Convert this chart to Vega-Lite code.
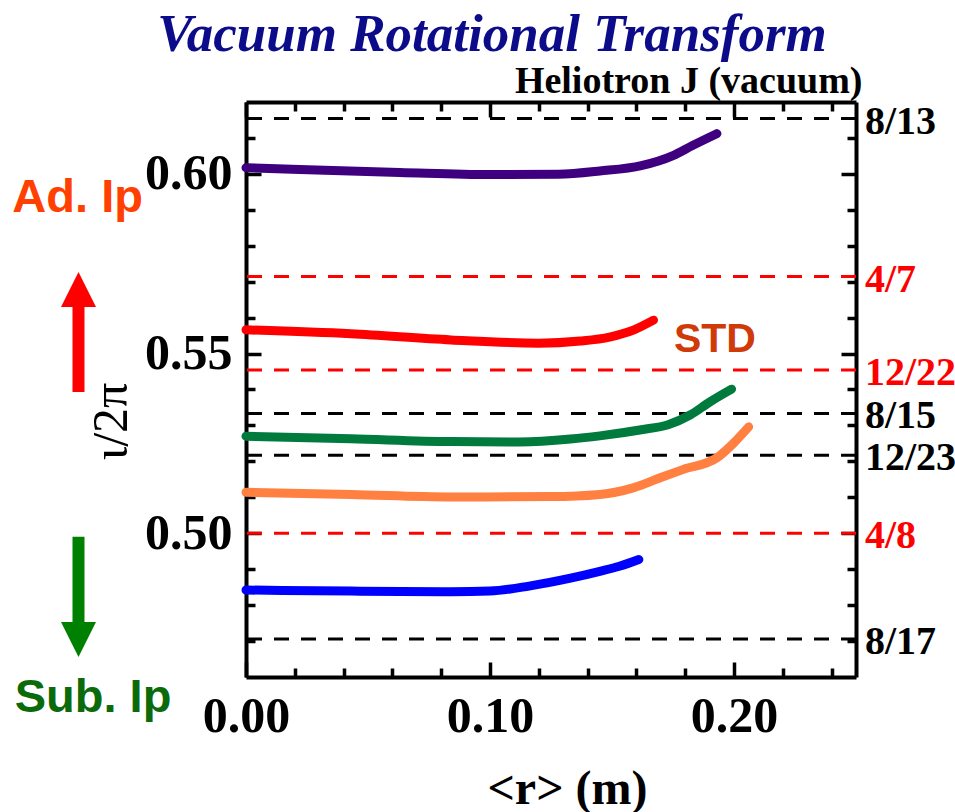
{
  "$schema": "https://vega.github.io/schema/vega-lite/v6.json",
  "width": 610,
  "height": 575,
  "autosize": {"type": "none"},
  "padding": {"left": 246, "top": 102, "right": 99, "bottom": 135},
  "background": "white",
  "title": {
    "text": "Vacuum Rotational Transform",
    "font": "Liberation Serif",
    "fontSize": 53,
    "fontStyle": "italic",
    "fontWeight": "bold",
    "color": "#0c0c8a",
    "anchor": "middle",
    "dx": -59,
    "offset": 0
  },
  "config": {
    "view": {"stroke": null},
    "axis": {
      "grid": false,
      "domainColor": "black",
      "domainWidth": 4,
      "tickColor": "black",
      "tickWidth": 3.5,
      "labelFont": "Liberation Serif",
      "labelFontWeight": "bold",
      "labelColor": "black",
      "titleColor": "black",
      "labelOverlap": false,
      "labelFlush": false
    }
  },
  "datasets": {
    "profiles": [
      {"config": "Ad. Ip", "r": 0.000, "iota": 0.6017},
      {"config": "Ad. Ip", "r": 0.022, "iota": 0.6012},
      {"config": "Ad. Ip", "r": 0.063, "iota": 0.6004},
      {"config": "Ad. Ip", "r": 0.100, "iota": 0.5998},
      {"config": "Ad. Ip", "r": 0.128, "iota": 0.5999},
      {"config": "Ad. Ip", "r": 0.145, "iota": 0.6008},
      {"config": "Ad. Ip", "r": 0.162, "iota": 0.6023},
      {"config": "Ad. Ip", "r": 0.175, "iota": 0.6051},
      {"config": "Ad. Ip", "r": 0.183, "iota": 0.6079},
      {"config": "Ad. Ip", "r": 0.193, "iota": 0.6112},
      {"config": "STD", "r": 0.000, "iota": 0.5566},
      {"config": "STD", "r": 0.043, "iota": 0.5555},
      {"config": "STD", "r": 0.084, "iota": 0.5538},
      {"config": "STD", "r": 0.120, "iota": 0.5529},
      {"config": "STD", "r": 0.137, "iota": 0.5535},
      {"config": "STD", "r": 0.149, "iota": 0.5546},
      {"config": "STD", "r": 0.159, "iota": 0.5566},
      {"config": "STD", "r": 0.167, "iota": 0.5593},
      {"config": "Sub. Ip 1", "r": 0.000, "iota": 0.5270},
      {"config": "Sub. Ip 1", "r": 0.043, "iota": 0.5263},
      {"config": "Sub. Ip 1", "r": 0.084, "iota": 0.5255},
      {"config": "Sub. Ip 1", "r": 0.112, "iota": 0.5254},
      {"config": "Sub. Ip 1", "r": 0.133, "iota": 0.5262},
      {"config": "Sub. Ip 1", "r": 0.145, "iota": 0.5271},
      {"config": "Sub. Ip 1", "r": 0.162, "iota": 0.5288},
      {"config": "Sub. Ip 1", "r": 0.173, "iota": 0.5302},
      {"config": "Sub. Ip 1", "r": 0.182, "iota": 0.5329},
      {"config": "Sub. Ip 1", "r": 0.190, "iota": 0.5365},
      {"config": "Sub. Ip 1", "r": 0.199, "iota": 0.5401},
      {"config": "Sub. Ip 2", "r": 0.000, "iota": 0.5114},
      {"config": "Sub. Ip 2", "r": 0.043, "iota": 0.5108},
      {"config": "Sub. Ip 2", "r": 0.084, "iota": 0.5101},
      {"config": "Sub. Ip 2", "r": 0.125, "iota": 0.5102},
      {"config": "Sub. Ip 2", "r": 0.145, "iota": 0.5108},
      {"config": "Sub. Ip 2", "r": 0.159, "iota": 0.5127},
      {"config": "Sub. Ip 2", "r": 0.170, "iota": 0.5155},
      {"config": "Sub. Ip 2", "r": 0.179, "iota": 0.5177},
      {"config": "Sub. Ip 2", "r": 0.193, "iota": 0.5210},
      {"config": "Sub. Ip 2", "r": 0.200, "iota": 0.5252},
      {"config": "Sub. Ip 2", "r": 0.206, "iota": 0.5296},
      {"config": "Sub. Ip 3", "r": 0.000, "iota": 0.4842},
      {"config": "Sub. Ip 3", "r": 0.043, "iota": 0.4839},
      {"config": "Sub. Ip 3", "r": 0.084, "iota": 0.4837},
      {"config": "Sub. Ip 3", "r": 0.100, "iota": 0.4839},
      {"config": "Sub. Ip 3", "r": 0.116, "iota": 0.4853},
      {"config": "Sub. Ip 3", "r": 0.133, "iota": 0.4875},
      {"config": "Sub. Ip 3", "r": 0.145, "iota": 0.4894},
      {"config": "Sub. Ip 3", "r": 0.153, "iota": 0.4908},
      {"config": "Sub. Ip 3", "r": 0.161, "iota": 0.4927}
    ],
    "resonances": [
      {"label": "8/13", "value": 0.6153846, "kind": "higher order"},
      {"label": "4/7", "value": 0.5714286, "kind": "low order"},
      {"label": "12/22", "value": 0.5454545, "kind": "low order"},
      {"label": "8/15", "value": 0.5333333, "kind": "higher order"},
      {"label": "12/23", "value": 0.5217391, "kind": "higher order"},
      {"label": "4/8", "value": 0.5, "kind": "low order"},
      {"label": "8/17", "value": 0.4705882, "kind": "higher order"}
    ]
  },
  "resolve": {
    "axis": {"x": "independent", "y": "independent"},
    "scale": {"color": "independent"}
  },
  "layer": [
    {
      "data": {"name": "resonances"},
      "mark": {"type": "rule", "strokeWidth": 3, "strokeDash": [15, 12]},
      "encoding": {
        "y": {"field": "value", "type": "quantitative", "axis": null,
              "scale": {"domain": [0.46, 0.62], "nice": false, "zero": false}},
        "color": {"field": "kind", "type": "nominal", "legend": null,
                  "scale": {"domain": ["higher order", "low order"], "range": ["#000000", "#ff0000"]}}
      }
    },
    {
      "data": {"name": "profiles"},
      "mark": {"type": "line", "strokeWidth": 9, "strokeCap": "round", "strokeJoin": "round", "interpolate": "monotone"},
      "encoding": {
        "x": {
          "field": "r", "type": "quantitative",
          "scale": {"domain": [0, 0.25], "nice": false, "zero": false},
          "axis": {
            "orient": "bottom",
            "values": [0, 0.02, 0.04, 0.06, 0.08, 0.1, 0.12, 0.14, 0.16, 0.18, 0.2, 0.22, 0.24],
            "labelExpr": "abs(datum.value * 10 - round(datum.value * 10)) < 0.001 ? format(datum.value, '.2f') : ''",
            "tickSize": {"condition": {"test": "abs(datum.value * 10 - round(datum.value * 10)) < 0.001", "value": -15}, "value": -9},
            "labelFontSize": 50,
            "labelPadding": 29,
            "title": "<r> (m)",
            "titleFont": "Liberation Serif",
            "titleFontSize": 48,
            "titleFontWeight": "bold",
            "titleX": 321,
            "titleY": 126,
            "titleBaseline": "alphabetic",
            "titleAlign": "center"
          }
        },
        "y": {
          "field": "iota", "type": "quantitative",
          "scale": {"domain": [0.46, 0.62], "nice": false, "zero": false},
          "axis": {
            "orient": "left",
            "values": [0.47, 0.48, 0.49, 0.5, 0.51, 0.52, 0.53, 0.54, 0.55, 0.56, 0.57, 0.58, 0.59, 0.6, 0.61],
            "labelExpr": "abs(datum.value * 20 - round(datum.value * 20)) < 0.001 ? format(datum.value, '.2f') : ''",
            "tickSize": {"condition": {"test": "abs(datum.value * 20 - round(datum.value * 20)) < 0.001", "value": -15}, "value": -9},
            "labelFontSize": 50,
            "labelPadding": 29,
            "labelBaseline": "middle",
            "title": "ι/2π",
            "titleFont": "Liberation Serif",
            "titleFontSize": 50,
            "titleFontWeight": "normal",
            "titleAngle": 270,
            "titleX": -135,
            "titleY": 319,
            "titleAlign": "center",
            "titleBaseline": "middle"
          }
        },
        "color": {
          "field": "config", "type": "nominal", "legend": null,
          "scale": {
            "domain": ["Ad. Ip", "STD", "Sub. Ip 1", "Sub. Ip 2", "Sub. Ip 3"],
            "range": ["#3f0080", "#ff0000", "#007a3d", "#ff8040", "#0000ff"]
          }
        }
      }
    },
    {
      "data": {"name": "resonances"},
      "mark": {"type": "text", "align": "left", "baseline": "middle", "dx": 9, "dy": 3,
               "font": "Liberation Serif", "fontWeight": "bold", "fontSize": 40},
      "encoding": {
        "x": {"datum": 0.25, "type": "quantitative", "axis": null,
              "scale": {"domain": [0, 0.25], "nice": false, "zero": false}},
        "y": {"field": "value", "type": "quantitative", "axis": null,
              "scale": {"domain": [0.46, 0.62], "nice": false, "zero": false}},
        "text": {"field": "label"},
        "color": {"field": "kind", "type": "nominal", "legend": null,
                  "scale": {"domain": ["higher order", "low order"], "range": ["#000000", "#ff0000"]}}
      }
    },
    {
      "data": {"values": [
        {"note": "Ad. Ip", "r": -0.069, "iota": 0.5894},
        {"note": "Sub. Ip", "r": -0.0627, "iota": 0.4503}
      ]},
      "mark": {"type": "text", "align": "center", "baseline": "alphabetic",
               "font": "Liberation Sans", "fontWeight": "bold", "fontSize": 47},
      "encoding": {
        "x": {
          "field": "r", "type": "quantitative",
          "scale": {"domain": [0, 0.25], "nice": false, "zero": false},
          "axis": {
            "orient": "top",
            "values": [0, 0.02, 0.04, 0.06, 0.08, 0.1, 0.12, 0.14, 0.16, 0.18, 0.2, 0.22, 0.24],
            "labels": false,
            "tickSize": {"condition": {"test": "abs(datum.value * 10 - round(datum.value * 10)) < 0.001", "value": -15}, "value": -9},
            "title": "Heliotron J (vacuum)",
            "titleFont": "Liberation Serif",
            "titleFontSize": 38,
            "titleFontWeight": "bold",
            "titleX": 616,
            "titleY": -10,
            "titleAlign": "right",
            "titleBaseline": "alphabetic"
          }
        },
        "y": {
          "field": "iota", "type": "quantitative",
          "scale": {"domain": [0.46, 0.62], "nice": false, "zero": false},
          "axis": {
            "orient": "right",
            "values": [0.47, 0.48, 0.49, 0.5, 0.51, 0.52, 0.53, 0.54, 0.55, 0.56, 0.57, 0.58, 0.59, 0.6, 0.61],
            "labels": false,
            "tickSize": {"condition": {"test": "abs(datum.value * 20 - round(datum.value * 20)) < 0.001", "value": -15}, "value": -9},
            "title": null
          }
        },
        "text": {"field": "note"},
        "color": {"field": "note", "type": "nominal", "legend": null,
                  "scale": {"domain": ["Ad. Ip", "Sub. Ip"], "range": ["#ff4000", "#0b6b0b"]}}
      }
    },
    {
      "data": {"values": [{"note": "STD", "r": 0.1922, "iota": 0.5504}]},
      "mark": {"type": "text", "align": "center", "baseline": "alphabetic",
               "font": "Liberation Sans", "fontWeight": "bold", "fontSize": 41, "color": "#d03a08"},
      "encoding": {
        "x": {"field": "r", "type": "quantitative", "axis": null,
              "scale": {"domain": [0, 0.25], "nice": false, "zero": false}},
        "y": {"field": "iota", "type": "quantitative", "axis": null,
              "scale": {"domain": [0.46, 0.62], "nice": false, "zero": false}},
        "text": {"field": "note"}
      }
    },
    {
      "data": {"values": [
        {"direction": "increase", "r": -0.06865, "from": 0.5393, "to": 0.5635},
        {"direction": "decrease", "r": -0.06865, "from": 0.4990, "to": 0.4748}
      ]},
      "mark": {"type": "rule", "strokeWidth": 12, "strokeCap": "butt"},
      "encoding": {
        "x": {"field": "r", "type": "quantitative", "axis": null,
              "scale": {"domain": [0, 0.25], "nice": false, "zero": false}},
        "y": {"field": "from", "type": "quantitative", "axis": null,
              "scale": {"domain": [0.46, 0.62], "nice": false, "zero": false}},
        "y2": {"field": "to"},
        "color": {"field": "direction", "type": "nominal", "legend": null,
                  "scale": {"domain": ["increase", "decrease"], "range": ["#ff0000", "#008000"]}}
      }
    },
    {
      "data": {"values": [
        {"direction": "increase", "r": -0.06865, "head": 0.56783},
        {"direction": "decrease", "r": -0.06865, "head": 0.47043}
      ]},
      "mark": {"type": "point", "filled": true, "opacity": 1, "size": 1225, "strokeWidth": 0},
      "encoding": {
        "x": {"field": "r", "type": "quantitative", "axis": null,
              "scale": {"domain": [0, 0.25], "nice": false, "zero": false}},
        "y": {"field": "head", "type": "quantitative", "axis": null,
              "scale": {"domain": [0.46, 0.62], "nice": false, "zero": false}},
        "shape": {"field": "direction", "type": "nominal", "legend": null,
                  "scale": {"domain": ["increase", "decrease"], "range": ["M0,-1L1,1L-1,1Z", "M0,1L1,-1L-1,-1Z"]}},
        "color": {"field": "direction", "type": "nominal", "legend": null,
                  "scale": {"domain": ["increase", "decrease"], "range": ["#ff0000", "#008000"]}}
      }
    }
  ]
}
